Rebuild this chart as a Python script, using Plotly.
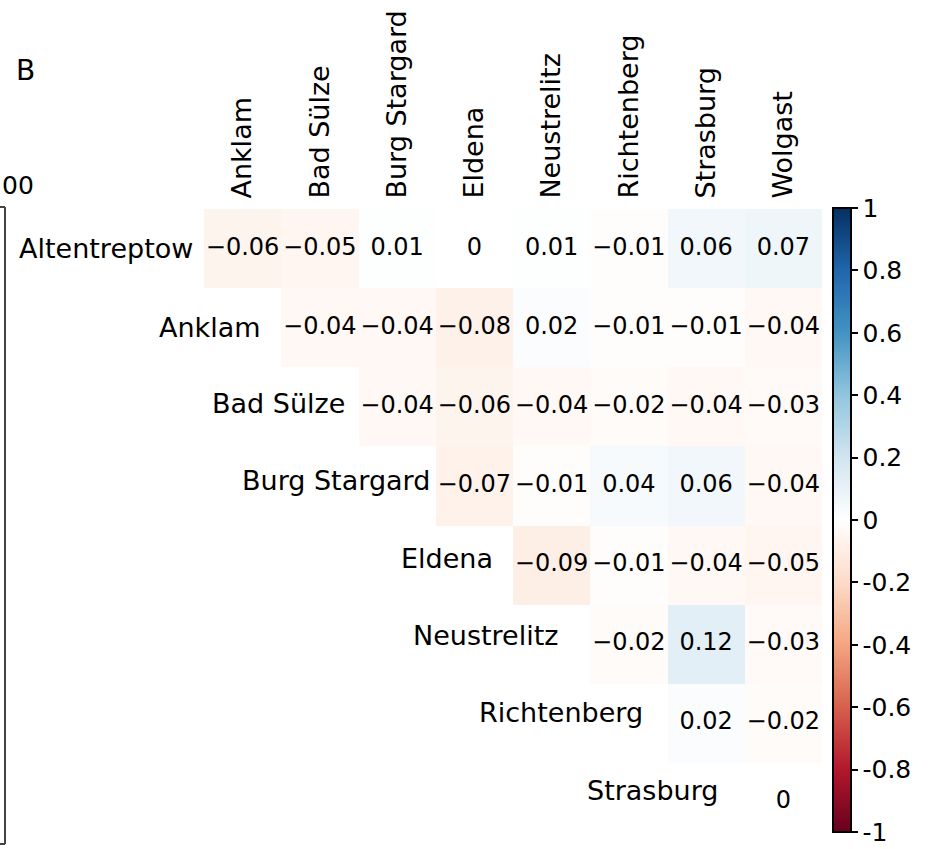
import plotly.graph_objects as go

# Station pairs: upper-triangular correlation matrix
row_names = ["Altentreptow", "Anklam", "Bad Sülze", "Burg Stargard",
             "Eldena", "Neustrelitz", "Richtenberg", "Strasburg"]
col_names = ["Anklam", "Bad Sülze", "Burg Stargard", "Eldena",
             "Neustrelitz", "Richtenberg", "Strasburg", "Wolgast"]

corr_altentreptow = [-0.06, -0.05, 0.01, 0.00, 0.01, -0.01, 0.06, 0.07]
corr_anklam = [None, -0.04, -0.04, -0.08, 0.02, -0.01, -0.01, -0.04]
corr_bad_suelze = [None, None, -0.04, -0.06, -0.04, -0.02, -0.04, -0.03]
corr_burg_stargard = [None, None, None, -0.07, -0.01, 0.04, 0.06, -0.04]
corr_eldena = [None, None, None, None, -0.09, -0.01, -0.04, -0.05]
corr_neustrelitz = [None, None, None, None, None, -0.02, 0.12, -0.03]
corr_richtenberg = [None, None, None, None, None, None, 0.02, -0.02]
corr_strasburg = [None, None, None, None, None, None, None, 0.00]

z = [corr_altentreptow, corr_anklam, corr_bad_suelze, corr_burg_stargard,
     corr_eldena, corr_neustrelitz, corr_richtenberg, corr_strasburg]

cbar_vals = [1, 0.8, 0.6, 0.4, 0.2, 0, -0.2, -0.4, -0.6, -0.8, -1]
cbar_text = ["1", "0.8", "0.6", "0.4", "0.2", "0", "-0.2", "-0.4", "-0.6", "-0.8", "-1"]

# Diverging red-white-blue scale
rdbu = ["#67001f", "#b2182b", "#d6604d", "#f4a582", "#fddbc7", "#ffffff",
        "#d1e5f0", "#92c5de", "#4393c3", "#2166ac", "#053061"]
colorscale = [[i / (len(rdbu) - 1), c] for i, c in enumerate(rdbu)]


def fmt(v):
    r = round(v, 2)
    if r == 0:
        return "0"
    return f"{r:g}".replace("-", "\u2212")


FIG_W, FIG_H = 931, 849
L, R, T, B = 204, 109, 209, 7
PW = FIG_W - L - R
PH = FIG_H - T - B


def px_x(px):
    return (px - L) / PW


def px_y(py):
    return (FIG_H - B - py) / PH


FONT = "DejaVu Sans, Verdana, sans-serif"

CB_TOP, CB_BOTTOM = 208, 832

fig = go.Figure()
fig.add_trace(go.Heatmap(
    z=z,
    x=list(range(len(col_names))),
    y=list(range(len(row_names))),
    colorscale=colorscale,
    zmin=-1, zmax=1,
    hoverongaps=False,
    colorbar=dict(
        x=px_x(833), xanchor="left", xpad=0,
        y=px_y(CB_TOP), yanchor="top",
        len=(CB_BOTTOM - CB_TOP) / PH, lenmode="fraction", ypad=0,
        thickness=18, outlinewidth=2, outlinecolor="black",
        tickvals=cbar_vals, ticktext=cbar_text,
        ticks="outside", ticklen=6, tickwidth=1.5, tickcolor="black",
        ticklabeloverflow="allow",
        tickfont=dict(family=FONT, size=25, color="black"),
    ),
))

# Value labels in each filled cell
tx, ty, tt = [], [], []
for i, row in enumerate(z):
    for j, v in enumerate(row):
        if v is not None:
            tx.append(j)
            ty.append(i)
            tt.append(fmt(v))
fig.add_trace(go.Scatter(
    x=tx, y=ty, text=tt, mode="text",
    textposition="middle center",
    textfont=dict(family=FONT, size=24, color="black"),
    hoverinfo="skip", showlegend=False,
))

# Row labels sit just left of each row's first cell
label_gap_px = [9, 18, 12, 4, 18, 30, 23, 25]
label_lift_px = [0, 0, 3, 5, 7, 9, 11, 12]
for i, name in enumerate(row_names):
    fig.add_annotation(
        x=i - 0.5, y=i, xref="x", yref="y",
        text=name, showarrow=False,
        xanchor="right", yanchor="middle",
        xshift=-label_gap_px[i], yshift=label_lift_px[i],
        font=dict(family=FONT, size=27, color="black"),
    )

# Panel letter
fig.add_annotation(
    x=px_x(14), y=px_y(71), xref="paper", yref="paper",
    text="B", showarrow=False, xanchor="left", yanchor="middle",
    font=dict(family=FONT, size=28, color="black"),
)

# Edge of the neighbouring panel
fig.add_annotation(
    x=px_x(0), y=px_y(185), xref="paper", yref="paper",
    text="00", showarrow=False, xanchor="left", yanchor="middle",
    font=dict(family=FONT, size=25, color="black"),
)
edge_color = "#444444"
fig.add_shape(type="line", xref="paper", yref="paper",
              x0=px_x(5), x1=px_x(5), y0=px_y(207), y1=px_y(844),
              line=dict(color=edge_color, width=2))
fig.add_shape(type="line", xref="paper", yref="paper",
              x0=px_x(0), x1=px_x(5), y0=px_y(207), y1=px_y(207),
              line=dict(color=edge_color, width=2))
fig.add_shape(type="line", xref="paper", yref="paper",
              x0=px_x(0), x1=px_x(5), y0=px_y(844), y1=px_y(844),
              line=dict(color=edge_color, width=2))

fig.update_xaxes(
    side="top", tickmode="array",
    tickvals=list(range(len(col_names))), ticktext=col_names,
    tickangle=-90, ticks="outside", ticklen=4, tickcolor="rgba(0,0,0,0)",
    tickfont=dict(family=FONT, size=27, color="black"),
    showgrid=False, zeroline=False, showline=False,
    range=[-0.5, len(col_names) - 0.5],
)
fig.update_yaxes(
    autorange="reversed", showticklabels=False, ticks="",
    showgrid=False, zeroline=False, showline=False,
)

fig.update_layout(
    width=FIG_W, height=FIG_H,
    margin=dict(l=L, r=R, t=T, b=B, autoexpand=False),
    paper_bgcolor="white", plot_bgcolor="white",
    font=dict(family=FONT, color="black"),
    showlegend=False,
)

fig.write_html("out.html")
